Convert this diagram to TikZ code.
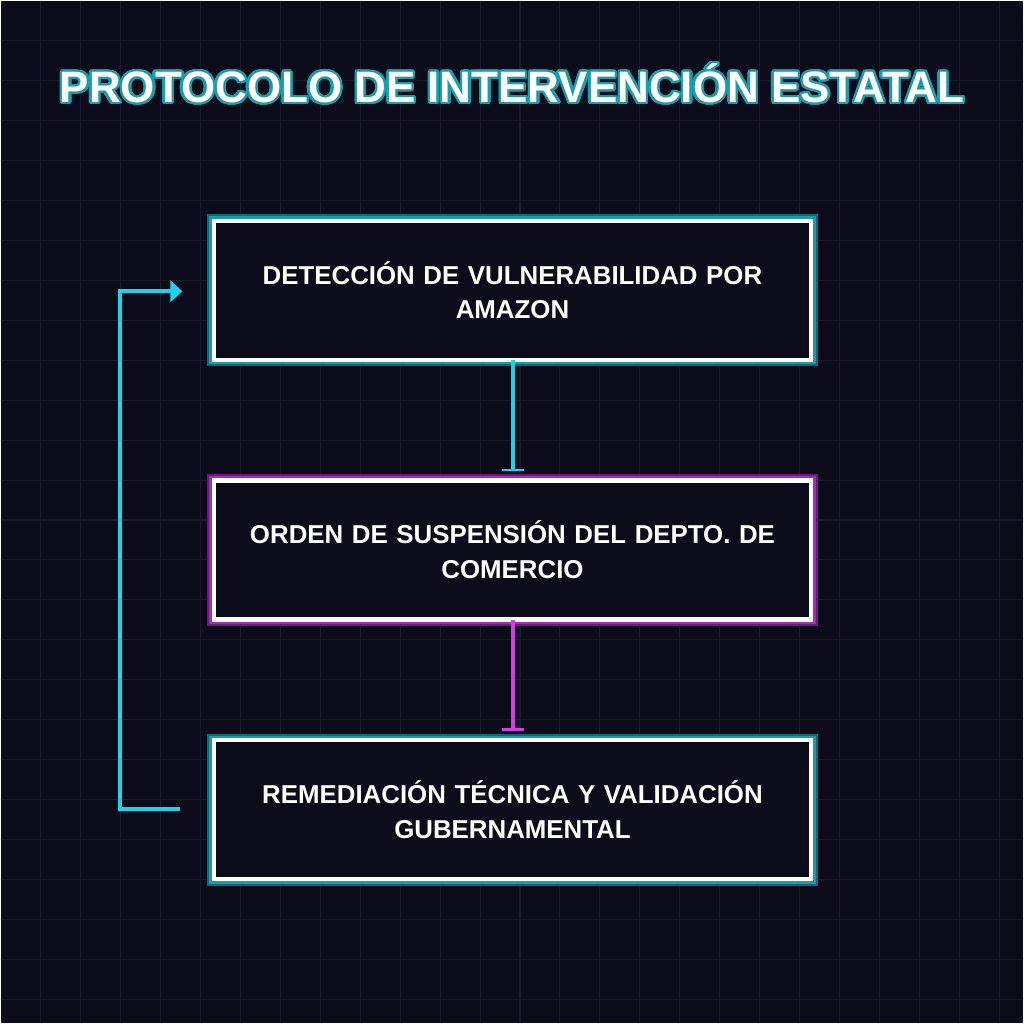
\documentclass[tikz,border=0pt]{standalone}
\usepackage{fontspec}
\setmainfont{Liberation Sans}
\usepackage{contour}
\contourlength{1.8pt}
\contournumber{32}
\usetikzlibrary{arrows.meta}
\definecolor{bg}{HTML}{0B0B1A}
\definecolor{gridc}{HTML}{191929}
\definecolor{cy}{HTML}{1ED2EC}
\definecolor{cyd}{HTML}{0E6A72}
\definecolor{cym}{HTML}{1A9DAA}
\definecolor{mg}{HTML}{D63CE6}
\definecolor{mgd}{HTML}{6A1A78}
\definecolor{mgm}{HTML}{A52DB5}
\tikzset{
  boxtext/.style={text=white,font=\bfseries\fontsize{19.4}{26}\selectfont,align=center,text width=440pt},
  cyline/.style={draw=cy,line width=3pt},
  mgline/.style={draw=mg,line width=3pt},
}
\newcommand{\glowbox}[5]{%
  \fill[black] (207,#1) rectangle (818,#1+152);
  \draw[#3,line width=6pt] (211,#1+4) rectangle (814,#1+148);
  \draw[#4,line width=3pt] (211,#1+4) rectangle (814,#1+148);
  \draw[white,line width=3.2pt,fill=bg] (213.5,#1+6.5) rectangle (811.5,#1+145.5);
  \node[boxtext] (#5) at (512.5,#1+76) {#2};
}
\begin{document}
\begin{tikzpicture}[x=0.75pt,y=-0.75pt]
\fill[bg] (0,0) rectangle (1024,1024);
\foreach \i in {40,80,...,1000}{
  \draw[gridc,line width=0.8pt] (\i,0) -- (\i,1024);
  \draw[gridc,line width=0.8pt] (0,\i) -- (1024,\i);
}
\useasboundingbox (0,0) rectangle (1024,1024);
\node[text=white,font=\bfseries\fontsize{33}{38}\selectfont] (title) at (512,84) {\contour{cym}{PROTOCOLO DE INTERVENCIÓN ESTATAL}};
\glowbox{214}{DETECCIÓN DE VULNERABILIDAD POR\\AMAZON}{cyd}{cym}{b1}
\glowbox{474}{ORDEN DE SUSPENSIÓN DEL DEPTO. DE\\COMERCIO}{mgd}{mgm}{b2}
\glowbox{734}{REMEDIACIÓN TÉCNICA Y VALIDACIÓN\\GUBERNAMENTAL}{cyd}{cym}{b3}
\coordinate (c1s) at (513,360);
\coordinate (c1e) at (513,471);
\coordinate (c2s) at (513,620);
\coordinate (c2e) at (513,731);
\draw[cyline,-{Bar[width=16pt,line width=1.8pt]}] (c1s) -- (c1e);
\draw[mgline,-{Bar[width=16pt,line width=1.8pt]}] (c2s) -- (c2e);
\coordinate (ls) at (180,809);
\coordinate (le) at (182,291);
\draw[cyline,-{Triangle[width=16pt,length=9pt]}] (ls) -- (120,809) -- (120,291) -- (le);
\end{tikzpicture}
\end{document}
